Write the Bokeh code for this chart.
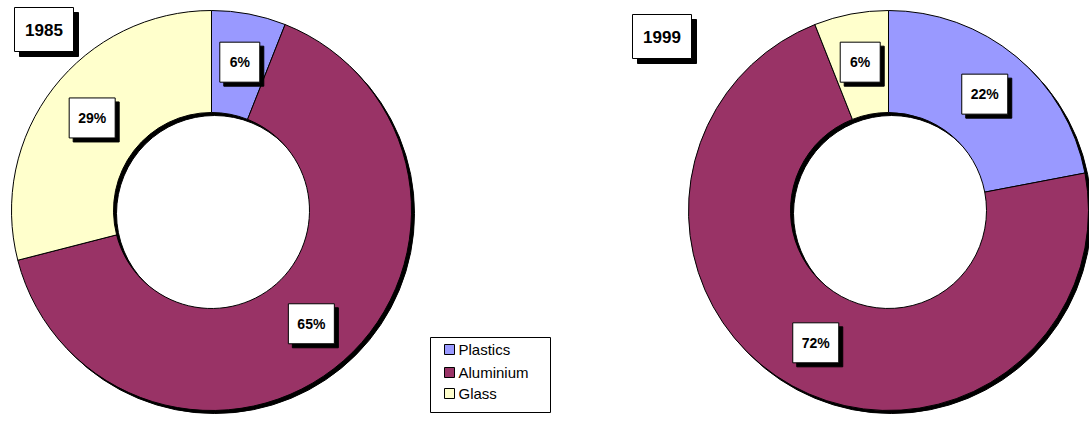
import numpy as np
from bokeh.plotting import figure
from bokeh.models import Range1d, ColumnDataSource
from bokeh.embed import file_html
from bokeh.resources import INLINE
from bokeh.core.properties import value

categories = ["Plastics", "Aluminium", "Glass"]
colors = ["#9999FF", "#993366", "#FFFFCC"]
years = ["1985", "1999"]
values_1985 = [6, 65, 29]
values_1999 = [22, 72, 6]

W, H = 1089, 421
FONT = value("Liberation Sans")
R_OUT, R_IN = 200, 98

p = figure(width=W, height=H, x_range=Range1d(0, W), y_range=Range1d(0, H),
           output_backend="svg", toolbar_location=None, min_border=0,
           x_axis_location=None, y_axis_location=None)
p.grid.visible = False
p.outline_line_color = None
p.background_fill_color = "white"
p.border_fill_color = "white"


def boxed_text(x, y, text, w, h, size, shadow):
    p.rect(x=[x + shadow], y=[y - shadow], width=w, height=h,
           fill_color="black", line_color="black")
    p.rect(x=[x], y=[y], width=w, height=h, fill_color="white", line_color="black", line_width=1)
    p.text(x=[x], y=[y], text=[text], text_font=FONT, text_font_style="bold",
           text_font_size=size, text_align="center", text_baseline="middle", text_color="black")


def donut(cx, cy, vals, year, tx, ty):
    fr = np.array(vals, dtype=float) / sum(vals)
    cum = np.concatenate([[0.0], np.cumsum(fr)])
    start = np.pi / 2 - 2 * np.pi * cum[:-1]
    end = np.pi / 2 - 2 * np.pi * cum[1:]
    p.annulus(x=[cx + 3], y=[cy - 3], inner_radius=R_IN, outer_radius=R_OUT,
              fill_color="black", line_color="black")
    src = ColumnDataSource(dict(start=start, end=end, color=colors))
    p.annular_wedge(x=cx, y=cy, inner_radius=R_IN, outer_radius=R_OUT,
                    start_angle="start", end_angle="end", direction="clock",
                    fill_color="color", line_color="black", line_width=1, source=src)
    mid = (start + end) / 2
    rl = (R_IN + R_OUT) / 2 + 2
    for v, a in zip(vals, mid):
        lbl = f"{v}%"
        w = 40 if len(lbl) == 2 else 46
        boxed_text(cx + rl * np.cos(a), cy + rl * np.sin(a), lbl, w, 40, "14px", 4)
    boxed_text(tx, ty, year, 59, 44, "17px", 5)


# image y -> data y : y = 421 - image_y
donut(211, 211, values_1985, years[0], 43.5, 392)
donut(888, 211, values_1999, years[1], 661.5, 385)

# legend
p.rect(x=[490], y=[46.5], width=120, height=75, fill_color="white", line_color="black", line_width=1)
ly = [72, 49, 28]
p.rect(x=[449] * 3, y=ly, width=10, height=10, fill_color=colors, line_color="black", line_width=1)
p.text(x=[458] * 3, y=ly, text=categories, text_font=FONT, text_font_size="15px",
       text_align="left", text_baseline="middle", text_color="black")

open("out.html", "w").write(file_html(p, INLINE))
